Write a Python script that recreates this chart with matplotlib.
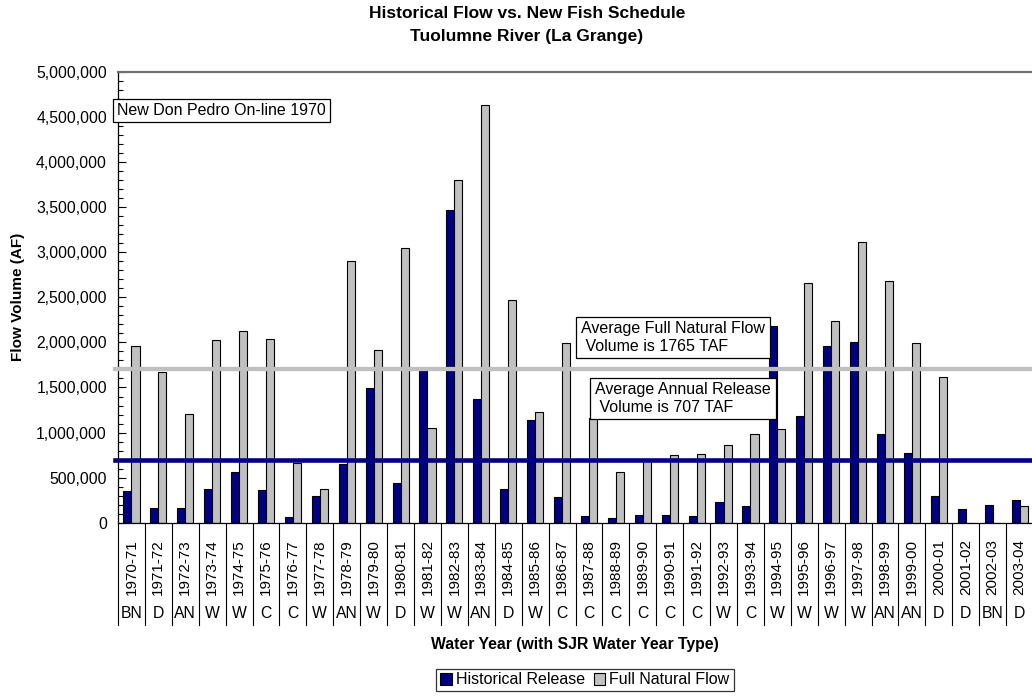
import matplotlib
matplotlib.use("Agg")
import matplotlib.pyplot as plt
import matplotlib.transforms as mtransforms
from matplotlib.patches import Patch
from matplotlib.ticker import MultipleLocator, FuncFormatter

plt.rcParams["font.family"] = ["Liberation Sans", "DejaVu Sans"]

years = ["1970-71", "1971-72", "1972-73", "1973-74", "1974-75", "1975-76", "1976-77",
         "1977-78", "1978-79", "1979-80", "1980-81", "1981-82", "1982-83", "1983-84",
         "1984-85", "1985-86", "1986-87", "1987-88", "1988-89", "1989-90", "1990-91",
         "1991-92", "1992-93", "1993-94", "1994-95", "1995-96", "1996-97", "1997-98",
         "1998-99", "1999-00", "2000-01", "2001-02", "2002-03", "2003-04"]
year_types = ["BN", "D", "AN", "W", "W", "C", "C", "W", "AN", "W", "D", "W", "W", "AN",
              "D", "W", "C", "C", "C", "C", "C", "C", "W", "C", "W", "W", "W", "W",
              "AN", "AN", "D", "D", "BN", "D"]
hist_release = [348000, 163000, 163000, 374000, 562000, 362000, 67000, 292000, 655000,
                1494000, 444000, 1700000, 3465000, 1376000, 374000, 1135000, 281000,
                74000, 56000, 81000, 81000, 78000, 233000, 185000, 2182000, 1180000,
                1956000, 2008000, 980000, 769000, 296000, 148000, 200000, 251000]
full_natural = [1964000, 1675000, 1206000, 2030000, 2126000, 2034000, 666000, 377000,
                2903000, 1912000, 3043000, 1054000, 3805000, 4634000, 2470000, 1224000,
                1993000, 1158000, 566000, 695000, 754000, 766000, 865000, 987000,
                1035000, 2655000, 2237000, 3117000, 2677000, 1997000, 1612000, 0, 0,
                189000]
avg_full_natural_line = 1700000
avg_release_line = 695000

NAVY = "#000080"
SILVER = "#C0C0C0"
W, H = 1032, 696

def fx(px):
    return px / W

def fy(py):
    return 1 - py / H

fig = plt.figure(figsize=(W / 100, H / 100), dpi=100)
ax = fig.add_axes([fx(118), fy(522.7), fx(1032 - 118) + 0.001, (522.7 - 72) / H])

xs = list(range(len(years)))
bw = 0.3
ax.bar([x - bw / 2 for x in xs], hist_release, bw, color=NAVY, edgecolor="black", lw=0.8, zorder=2)
ax.bar([x + bw / 2 for x in xs], full_natural, bw, color=SILVER, edgecolor="black", lw=0.8, zorder=2)

ax.axhline(avg_full_natural_line, xmin=-0.003, xmax=1, color=SILVER, lw=3.1, zorder=3, clip_on=False)
ax.axhline(avg_release_line, xmin=-0.003, xmax=1, color=NAVY, lw=3.3, zorder=3, clip_on=False)

ax.set_xlim(-0.5, len(years) - 0.5)
ax.set_ylim(0, 5000000)
ax.yaxis.set_major_locator(MultipleLocator(500000))
ax.yaxis.set_minor_locator(MultipleLocator(100000))
ax.yaxis.set_major_formatter(FuncFormatter(lambda v, p: f"{v:,.0f}"))
ax.tick_params(axis="y", which="major", direction="in", length=6, width=0.8, labelsize=11.3, pad=8)
ax.tick_params(axis="y", which="minor", direction="in", length=3.5, width=0.8)
ax.set_xticks(xs)
ax.set_xticklabels(years, rotation=90, fontsize=11, va="top")
ax.tick_params(axis="x", length=0, pad=12)

ax.spines["right"].set_visible(False)
ax.spines["top"].set_color("#707070")
ax.spines["top"].set_linewidth(1.6)
for sp in ("left", "bottom"):
    ax.spines[sp].set_color("black")
    ax.spines[sp].set_linewidth(0.9)

# category separators and water year type row below the axis
trans = mtransforms.blended_transform_factory(ax.transData, ax.transAxes)
sep_bottom = -(625 - 522.7) / (522.7 - 72)
type_y = -(614 - 522.7) / (522.7 - 72)
for x in xs + [len(years)]:
    ax.plot([x - 0.5, x - 0.5], [0, sep_bottom], transform=trans, color="black", lw=0.8, clip_on=False)
for x, t in zip(xs, year_types):
    ax.text(x, type_y, t, transform=trans, ha="center", va="center", fontsize=11.3)

box = dict(boxstyle="square,pad=0.25", fc="white", ec="black", lw=0.9)
fig.text(fx(117), fy(110.5), "New Don Pedro On-line 1970", ha="left", va="center", fontsize=11.5, bbox=box, zorder=5)
fig.text(fx(581), fy(337.5), "Average Full Natural Flow\n Volume is 1765 TAF", ha="left", va="center",
         fontsize=11.5, linespacing=1.2, bbox=dict(boxstyle="square,pad=0.3", fc="white", ec="black", lw=0.9), zorder=5)
fig.text(fx(595), fy(398.5), "Average Annual Release\n Volume is 707 TAF", ha="left", va="center",
         fontsize=11.5, linespacing=1.2, bbox=dict(boxstyle="square,pad=0.3", fc="white", ec="black", lw=0.9), zorder=5)

fig.text(fx(527), fy(13), "Historical Flow vs. New Fish Schedule", ha="center", va="center",
         fontsize=12.5, fontweight="bold")
fig.text(fx(527), fy(36), "Tuolumne River (La Grange)", ha="center", va="center",
         fontsize=12.5, fontweight="bold")
fig.text(fx(18), fy(297), "Flow Volume (AF)", rotation=90, ha="center", va="center",
         fontsize=11, fontweight="bold")
fig.text(fx(575), fy(645), "Water Year (with SJR Water Year Type)", ha="center", va="center",
         fontsize=11.3, fontweight="bold")

handles = [Patch(facecolor=NAVY, edgecolor="black", lw=0.8), Patch(facecolor=SILVER, edgecolor="black", lw=0.8)]
leg = fig.legend(handles, ["Historical Release", "Full Natural Flow"], loc="center",
                 bbox_to_anchor=(fx(585), fy(680)), ncol=2, fontsize=11.5, frameon=True,
                 fancybox=False, edgecolor="black", handlelength=0.7, handleheight=0.7,
                 handletextpad=0.25, columnspacing=0.6, borderpad=0.25, borderaxespad=0)
leg.get_frame().set_linewidth(0.9)

fig.savefig("out.png", dpi=100)
